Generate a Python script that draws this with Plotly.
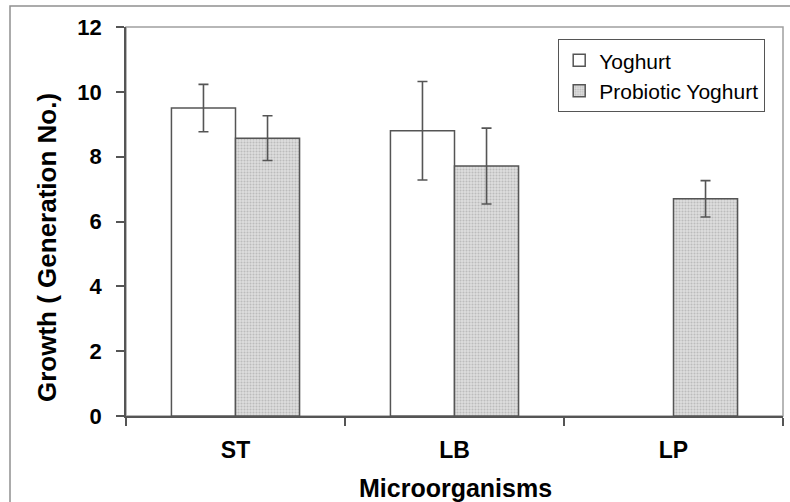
import plotly.graph_objects as go

categories = ["ST", "LB", "LP"]
yoghurt = [9.5, 8.8, None]
yoghurt_err = [0.73, 1.52, None]
probiotic = [8.57, 7.71, 6.70]
probiotic_err = [0.69, 1.17, 0.56]
y_ticks = [0, 2, 4, 6, 8, 10, 12]

EDGE = "#555555"
FONT = "Liberation Sans, Arial, sans-serif"

fig = go.Figure()
fig.add_trace(go.Bar(
    name="Yoghurt", x=categories, y=yoghurt,
    marker=dict(color="white", line=dict(color=EDGE, width=1.5)),
    error_y=dict(type="data", array=yoghurt_err, visible=True,
                 color=EDGE, thickness=1.6, width=5),
))
fig.add_trace(go.Bar(
    name="Probiotic Yoghurt", x=categories, y=probiotic,
    marker=dict(color="#dcdcdc", line=dict(color=EDGE, width=1.5),
                pattern=dict(shape=".", fgcolor="#9a9a9a", bgcolor="#dedede",
                             size=3, solidity=0.4)),
    error_y=dict(type="data", array=probiotic_err, visible=True,
                 color=EDGE, thickness=1.6, width=5),
))

L, R, T, B = 126, 7, 27, 86
W, H = 790, 502
pw, ph = W - L - R, H - T - B

def px_x(p):
    return (p - L) / pw

def px_y(p):
    return (H - B - p) / ph

fig.update_layout(
    width=W, height=H,
    margin=dict(l=L, r=R, t=T, b=B, pad=0, autoexpand=False),
    paper_bgcolor="white", plot_bgcolor="white",
    barmode="group", bargap=0.415, bargroupgap=0,
    font=dict(family=FONT, color="black"),
    showlegend=True,
    legend=dict(x=px_x(558), y=px_y(39), xanchor="left", yanchor="top",
                bordercolor="#555555", borderwidth=1.2, bgcolor="white",
                font=dict(size=21, family=FONT, color="black"),
                traceorder="normal", itemwidth=30),
    xaxis=dict(
        automargin=False,
        showgrid=False, showline=True, linecolor=EDGE, linewidth=1.5,
        ticks="outside", tickson="boundaries", ticklen=8, tickcolor=EDGE, tickwidth=1.5,
        ticklabelstandoff=13,
        tickfont=dict(size=23, family=FONT, color="black", weight="bold"),
        zeroline=False,
    ),
    yaxis=dict(
        automargin=False,
        range=[0, 12], tickvals=y_ticks, ticktext=[str(v) for v in y_ticks],
        showgrid=False, showline=True, linecolor=EDGE, linewidth=1.5,
        ticks="outside", ticklen=8, tickcolor=EDGE, tickwidth=1.5,
        ticklabelstandoff=10,
        tickfont=dict(size=22, family=FONT, color="black", weight="bold"),
        zeroline=False,
    ),
    annotations=[
        dict(text="<b>Growth ( Generation No.)</b>", xref="paper", yref="paper",
             x=px_x(47), y=px_y(248), xanchor="center", yanchor="middle",
             textangle=-90, showarrow=False,
             font=dict(size=26, family=FONT, color="black")),
        dict(text="<b>Microorganisms</b>", xref="paper", yref="paper",
             x=px_x(455), y=px_y(488), xanchor="center", yanchor="middle",
             showarrow=False,
             font=dict(size=25, family=FONT, color="black")),
    ],
    shapes=[
        dict(type="rect", xref="paper", yref="paper", x0=0, x1=1, y0=0, y1=1,
             line=dict(color="#a0a0a0", width=1.5), layer="below"),
        dict(type="rect", xref="paper", yref="paper",
             x0=px_x(10), x1=px_x(800), y0=px_y(6), y1=px_y(520),
             line=dict(color="#909090", width=1.5), layer="below"),
    ],
)

fig.write_html("out.html")
